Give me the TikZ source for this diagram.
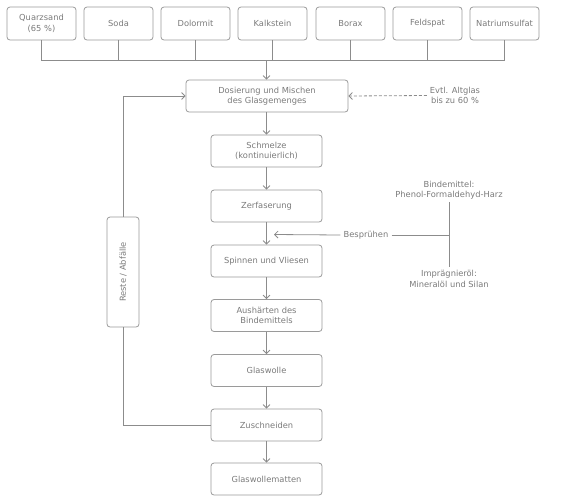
\documentclass[tikz,border=0pt]{standalone}
\usepackage{fontspec}
\setmainfont{DejaVu Sans}
\usetikzlibrary{arrows.meta}
\definecolor{boxc}{HTML}{9A9A9A}
\definecolor{linec}{HTML}{8C8C8C}
\definecolor{txtc}{HTML}{7A7A7A}
\begin{document}
\begin{tikzpicture}[x=1pt,y=-1pt,
  font=\fontsize{8.3}{10.5}\selectfont, text=txtc,
  box/.style={draw=boxc, line width=0.8pt, rounded corners=3pt, align=center, inner sep=1pt},
  topbox/.style={box, minimum width=69pt, minimum height=33pt},
  mainbox/.style={box, minimum width=111pt, minimum height=32pt},
  conn/.style={draw=linec, line width=0.8pt},
  arr/.style={conn, -{Straight Barb[length=3.5pt,width=7pt]}},
  lbl/.style={align=center, inner sep=3pt}]
\useasboundingbox (0,0) rectangle (580,501);
% top raw materials
\node[topbox] (q) at (41.5,23.5) {Quarzsand\\(65 \%)};
\node[topbox] (so) at (118.5,23.5) {Soda};
\node[topbox] (do) at (195.5,23.5) {Dolormit};
\node[topbox] (ka) at (272.5,23.5) {Kalkstein};
\node[topbox] (bo) at (350.5,23.5) {Borax};
\node[topbox] (fe) at (427.5,23.5) {Feldspat};
\node[topbox] (na) at (504.5,23.5) {Natriumsulfat};
\coordinate (bus) at (266.5,60);
\foreach \n in {q,so,do,ka,bo,fe,na} \draw[conn] (\n.south) |- (bus);
% main chain
\node[box, minimum width=162pt, minimum height=32pt] (dos) at (267,96) {Dosierung und Mischen\\des Glasgemenges};
\node[mainbox] (sch) at (266.5,151) {Schmelze\\(kontinuierlich)};
\node[mainbox] (zer) at (266.5,206) {Zerfaserung};
\node[mainbox] (spi) at (266.5,261) {Spinnen und Vliesen};
\node[mainbox] (aus) at (266.5,315.5) {Aushärten des\\Bindemittels};
\node[mainbox] (glw) at (266.5,370.5) {Glaswolle};
\node[mainbox] (zus) at (266.5,425) {Zuschneiden};
\node[mainbox] (gwm) at (266.5,479) {Glaswollematten};
\draw[arr] (bus) -- (dos.north -| bus);
\draw[arr] (dos.south -| sch.north) -- (sch.north);
\draw[arr] (sch) -- (zer);
\draw[arr] (zer) -- (spi);
\draw[arr] (spi) -- (aus);
\draw[arr] (aus) -- (glw);
\draw[arr] (glw) -- (zus);
\draw[arr] (zus) -- (gwm);
% recycling loop
\node[box, minimum width=32pt, minimum height=110pt] (res) at (123,272) {\rotatebox{90}{Reste / Abfälle}};
\draw[arr] (res.north) |- (dos.west);
\draw[conn] (zus.west) -| (res.south);
% old glass
\node[lbl] (alt) at (455,95.5) {Evtl. Altglas\\bis zu 60 \%};
\draw[arr, dashed, dash pattern=on 3pt off 2pt] (alt.west) -- (dos.east);
% spraying
\node[lbl] (bes) at (366,235) {Besprühen};
\coordinate (sp) at (274,234.5);
\draw[arr] (bes.west) -- (sp);
\node[lbl] (bin) at (449,190) {Bindemittel:\\Phenol-Formaldehyd-Harz};
\node[lbl] (imp) at (449,279) {Imprägnieröl:\\Mineralöl und Silan};
\coordinate (jn) at (449,235);
\draw[conn] (bes.east) -- (jn);
\draw[conn] (bin.south) -- (imp.north);
\end{tikzpicture}
\end{document}
